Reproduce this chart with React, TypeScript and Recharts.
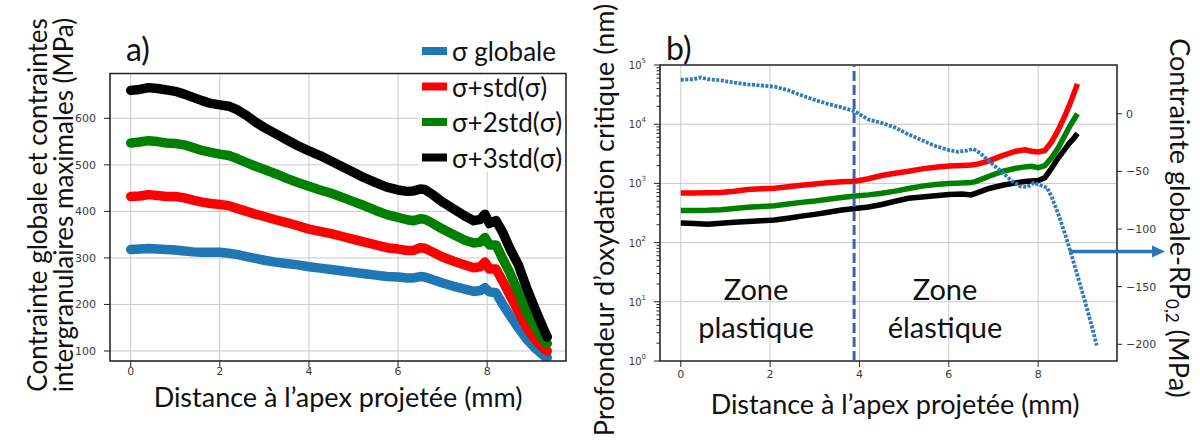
import React from "react";
import {
  CartesianGrid,
  Line,
  LineChart,
  ReferenceArea,
  ReferenceLine,
  XAxis,
  YAxis,
} from "recharts";

// ---- panel a) : contraintes vs distance ----
const distA = [
  0, 0.2, 0.4, 0.6, 0.8, 1.0, 1.2, 1.4, 1.6, 1.8, 2.0, 2.2, 2.4, 2.6, 2.8, 3.0,
  3.25, 3.5, 3.75, 4.0, 4.25, 4.5, 4.75, 5.0, 5.25, 5.5, 5.75, 6.0, 6.2, 6.35,
  6.5, 6.6, 6.75, 7.0, 7.25, 7.5, 7.7, 7.85, 7.95, 8.05, 8.2, 8.35, 8.5, 8.7,
  8.9, 9.1, 9.3, 9.35,
];
const sigmaGlobale = [
  318, 319, 320, 319, 318, 317, 315, 313, 312, 312, 312, 310, 307, 303, 299,
  295, 291, 288, 285, 281, 278, 275, 272, 269, 266, 263, 260, 259, 257, 257,
  260, 259, 254, 246, 239, 233, 228, 230, 236, 227, 225, 200, 178, 150, 124,
  104, 88, 86,
];
const sigmaStd1 = [
  432, 433, 436, 434, 432, 432, 429, 424, 420, 417, 415, 412, 406, 400, 394,
  389, 382, 376, 369, 362, 357, 352, 346, 340, 334, 328, 322, 319, 316, 316,
  322, 321, 314, 302, 293, 285, 279, 281, 291, 276, 276, 250, 222, 185, 148,
  122, 103, 100,
];
const sigmaStd2 = [
  547, 549, 552, 550, 547, 546, 543, 537, 531, 527, 523, 520, 513, 505, 497,
  490, 481, 471, 462, 454, 446, 439, 430, 421, 412, 402, 393, 387, 382, 380,
  384, 383, 376, 362, 350, 338, 332, 334, 344, 328, 328, 298, 270, 226, 182,
  148, 120, 116,
];
const sigmaStd3 = [
  660, 662, 666, 664, 661, 658, 652, 645, 638, 632, 629, 626, 618, 606, 592,
  580, 567, 554, 541, 530, 520, 508, 496, 484, 472, 462, 452, 446, 443, 444,
  448, 447, 438, 420, 405, 390, 380, 383, 394, 374, 380, 355, 322, 285, 232,
  185, 140, 130,
];
const ticksA = [0, 2, 4, 6, 8];
const stressTicks = [100, 200, 300, 400, 500, 600];

// ---- panel b) : profondeur critique (log) + contrainte - Rp0,2 ----
const distB = [
  0, 0.3, 0.6, 0.9, 1.2, 1.5, 1.8, 2.1, 2.4, 2.7, 3.0, 3.3, 3.6, 3.9, 4.2, 4.5,
  4.8, 5.1, 5.4, 5.7, 6.0, 6.3, 6.5, 6.6, 6.9, 7.2, 7.5, 7.7, 7.85, 8.0, 8.15,
  8.3, 8.45, 8.6, 8.7, 8.8, 8.88,
];
const depthStd1 = [
  690, 690, 695, 705, 740, 790, 810, 830, 880, 930, 975, 1030, 1070, 1090, 1200,
  1360, 1480, 1600, 1760, 1880, 1960, 2000, 2040, 2080, 2400, 2950, 3500, 3700,
  3500, 3400, 3600, 5000, 8000, 14000, 21000, 33000, 48000,
];
const depthStd2 = [
  350, 350, 352, 360, 378, 395, 408, 420, 450, 478, 505, 540, 580, 615, 640,
  680, 740, 820, 900, 960, 1000, 1020, 1040, 1070, 1320, 1600, 1800, 1900, 1950,
  1850, 2000, 2700, 4000, 6500, 9000, 12000, 15000,
];
const depthStd3 = [
  215, 210, 205, 212, 220, 228, 234, 240, 258, 280, 300, 325, 355, 378, 400,
  440, 500, 560, 590, 620, 650, 660, 640, 680, 820, 930, 1020, 1080, 1100,
  1120, 1250, 1800, 2700, 3800, 4800, 5800, 7000,
];
const distBlue = [
  0, 0.3, 0.45, 0.6, 0.9, 1.2, 1.5, 1.8, 2.1, 2.4, 2.7, 3.0, 3.3, 3.6, 3.9, 4.2,
  4.5, 4.8, 5.1, 5.4, 5.7, 6.0, 6.2, 6.4, 6.55, 6.7, 6.9, 7.2, 7.4, 7.6, 7.75,
  7.9, 8.05, 8.2, 8.3, 8.45, 8.6, 8.75, 8.9, 9.05, 9.2, 9.31,
];
const stressMinusRp = [
  29.5, 30, 31.5, 30, 29, 27, 25.5, 24.5, 23.5, 20.5, 16, 12, 8.5, 5.5, 2, -5,
  -8, -12, -18, -23, -28, -31.5, -33, -32, -30.5, -34, -41, -51, -58, -63,
  -63.5, -60, -62, -64, -72, -87, -104, -123, -143, -163, -184, -201,
];
const ticksB = [0, 2, 4, 6, 8];
const depthMajor = [1, 10, 100, 1000, 10000, 100000];
const depthTicks = depthMajor.flatMap((d, i) =>
  i < depthMajor.length - 1 ? [d, 2 * d, 3 * d, 4 * d, 5 * d, 6 * d, 7 * d, 8 * d, 9 * d] : [d],
);
const rpTicks = [0, -50, -100, -150, -200];
const zoneLimit = 3.88;
const arrowY = -119.5;
const arrowFrom = 8.7;
const arrowTo = 10.84;

const legendA = [
  { label: "σ globale", color: "#1f77b4" },
  { label: "σ+std(σ)", color: "#ff0000" },
  { label: "σ+2std(σ)", color: "#008000" },
  { label: "σ+3std(σ)", color: "#000000" },
];

const tableA = distA.map((x, i) => ({
  x,
  s0: sigmaGlobale[i],
  s1: sigmaStd1[i],
  s2: sigmaStd2[i],
  s3: sigmaStd3[i],
}));
const red = distB.map((x, i) => ({ x, v: depthStd1[i] }));
const green = distB.map((x, i) => ({ x, v: depthStd2[i] }));
const black = distB.map((x, i) => ({ x, v: depthStd3[i] }));
const blue = distBlue.map((x, i) => ({ x, v: stressMinusRp[i] }));

const xDomA: [number, number] = [-0.465, 9.77];
const yDomA: [number, number] = [78.5, 696.3];
const xDomB: [number, number] = [-0.465, 9.765];
const yDomLog: [number, number] = [1, 100000];
const yDomRp: [number, number] = [-214.5, 42.3];

// plot box of panel a (chart is 600 x 443)
const boxA = { left: 110, top: 73.5, right: 566, bottom: 361 };
const X_AXIS_H = 30;

const tickFont = { fontSize: 11, fill: "#3a3a3a", fontFamily: "DejaVu Sans" };
const gridColor = "#c9c9c9";
const frameColor = "#222";
const LOG_TICK = 6;
const LOG_MARGIN = 8;

function LogTick(props: any) {
  const { x, y, payload } = props;
  const v = payload.value as number;
  const e = Math.log10(v);
  const major = Math.abs(e - Math.round(e)) < 1e-9;
  const edge = x + LOG_MARGIN + LOG_TICK;
  const len = major ? LOG_TICK : 3.5;
  return (
    <g>
      <line x1={edge - len} x2={edge} y1={y} y2={y} stroke={frameColor} strokeWidth={1} />
      {major && (
        <text x={x} y={y + 4} textAnchor="end" {...tickFont} fontSize={10}>
          10
          <tspan dy={-6} fontSize={7}>
            {Math.round(e)}
          </tspan>
        </text>
      )}
    </g>
  );
}

function ArrowShape(props: any) {
  const { x1, y1, x2 } = props;
  return (
    <g>
      <line x1={x1} y1={y1} x2={x2 - 10} y2={y1} stroke="#2e75b6" strokeWidth={3.5} />
      <polygon points={`${x2 - 13},${y1 - 6} ${x2},${y1} ${x2 - 13},${y1 + 6}`} fill="#2e75b6" />
    </g>
  );
}

const minus = (v: number) => (v < 0 ? `\u2212${Math.abs(v)}` : `${v}`);

export default function App() {
  const title = { fontFamily: "Lato, 'Open Sans', sans-serif", fill: "#111" };
  return (
    <div style={{ position: "relative", width: 1200, height: 443, background: "#fff" }}>
      <style>{`body{margin:0}`}</style>

      <div style={{ position: "absolute", left: 0, top: 0 }}>
        <LineChart
          width={600}
          height={443}
          data={tableA}
          margin={{
            top: boxA.top,
            right: 600 - boxA.right,
            bottom: 443 - boxA.bottom - X_AXIS_H,
            left: 0,
          }}
        >
          <CartesianGrid stroke={gridColor} strokeWidth={1} />
          <XAxis
            dataKey="x"
            type="number"
            domain={xDomA}
            ticks={ticksA}
            allowDataOverflow
            axisLine={false}
            tickLine={{ stroke: frameColor }}
            tickSize={6}
            tickMargin={0}
            tick={tickFont}
            height={X_AXIS_H}
          />
          <YAxis
            type="number"
            domain={yDomA}
            ticks={stressTicks}
            allowDataOverflow
            axisLine={false}
            tickLine={{ stroke: frameColor }}
            tickSize={6}
            tickMargin={8}
            tick={tickFont}
            width={boxA.left}
          />
          {(["s0", "s1", "s2", "s3"] as const).map((k, i) => (
            <Line
              key={k}
              dataKey={k}
              type="linear"
              stroke={legendA[i].color}
              strokeWidth={9.5}
              strokeLinejoin="round"
              strokeLinecap="round"
              dot={false}
              activeDot={false}
              isAnimationActive={false}
            />
          ))}
        </LineChart>
      </div>

      <div style={{ position: "absolute", left: 600, top: 0 }}>
        <LineChart width={600} height={443} margin={{ top: 65, right: 23, bottom: 52, left: 0 }}>
          <CartesianGrid
            stroke={gridColor}
            strokeWidth={1}
            yAxisId="log"
            horizontalValues={[10, 100, 1000, 10000]}
          />
          <XAxis
            dataKey="x"
            type="number"
            domain={xDomB}
            ticks={ticksB}
            allowDataOverflow
            axisLine={false}
            tickLine={{ stroke: frameColor }}
            tickSize={6}
            tickMargin={3}
            tick={tickFont}
            height={30}
          />
          <YAxis
            yAxisId="log"
            type="number"
            scale="log"
            domain={yDomLog}
            ticks={depthTicks}
            interval={0}
            allowDataOverflow
            axisLine={false}
            tickLine={false}
            tickSize={LOG_TICK}
            tickMargin={LOG_MARGIN}
            tick={<LogTick />}
            width={60}
          />
          <YAxis
            yAxisId="right"
            orientation="right"
            type="number"
            domain={yDomRp}
            ticks={rpTicks}
            allowDataOverflow
            axisLine={false}
            tickLine={{ stroke: frameColor }}
            tickSize={5}
            tickMargin={4}
            tick={tickFont}
            tickFormatter={minus}
            width={60}
          />
          <ReferenceArea
            yAxisId="log"
            x1={xDomB[0]}
            x2={xDomB[1]}
            y1={yDomLog[0]}
            y2={yDomLog[1]}
            fill="none"
            fillOpacity={0}
            stroke={frameColor}
            strokeWidth={1.5}
            ifOverflow="visible"
          />
          <Line data={red} dataKey="v" yAxisId="log" stroke="#ff0000" strokeWidth={5.5} dot={false} activeDot={false} isAnimationActive={false} />
          <Line data={green} dataKey="v" yAxisId="log" stroke="#008000" strokeWidth={5.5} dot={false} activeDot={false} isAnimationActive={false} />
          <Line data={black} dataKey="v" yAxisId="log" stroke="#000000" strokeWidth={5.5} dot={false} activeDot={false} isAnimationActive={false} />
          <ReferenceLine
            yAxisId="log"
            x={zoneLimit}
            stroke="#3b62ad"
            strokeWidth={3}
            strokeDasharray="10 4"
          />
          <Line
            data={blue}
            dataKey="v"
            yAxisId="right"
            stroke="#2e7bbd"
            strokeWidth={3.8}
            strokeDasharray="3 1.5"
            dot={false}
            activeDot={false}
            isAnimationActive={false}
          />
          <ReferenceLine
            yAxisId="right"
            segment={[
              { x: arrowFrom, y: arrowY },
              { x: arrowTo, y: arrowY },
            ]}
            ifOverflow="visible"
            shape={ArrowShape}
          />
        </LineChart>
      </div>

      <svg
        width={1200}
        height={443}
        style={{ position: "absolute", left: 0, top: 0, pointerEvents: "none" }}
      >
        {/* panel a */}
        <rect x={418} y={32} width={146} height={140} fill="#fff" fillOpacity={0.8} />
        <path
          d={`M${boxA.left},${boxA.top} H${boxA.right} V${boxA.bottom} H${boxA.left} Z`}
          fill="none"
          stroke={frameColor}
          strokeWidth={1.5}
        />
        <text x={126} y={61} fontSize={32} {...title}>a)</text>
        {legendA.map((l, i) => (
          <g key={l.label}>
            <rect x={422} y={51 + i * 35.5 - 4} width={25} height={8} fill={l.color} />
            <text x={452} y={51 + i * 35.5} fontSize={26} dominantBaseline="central" {...title}>
              {l.label}
            </text>
          </g>
        ))}
        <text x={338} y={407} fontSize={27} textAnchor="middle" {...title}>
          Distance à l’apex projetée (mm)
        </text>
        <text
          x={37}
          y={205}
          fontSize={26}
          textAnchor="middle"
          dominantBaseline="central"
          transform="rotate(-90 37 205)"
          {...title}
        >
          Contrainte globale et contraintes
        </text>
        <text
          x={63}
          y={205}
          fontSize={26}
          textAnchor="middle"
          dominantBaseline="central"
          transform="rotate(-90 63 205)"
          {...title}
        >
          intergranulaires maximales (MPa)
        </text>

        {/* panel b */}
        <text x={666} y={60} fontSize={32} {...title}>b)</text>
        <text x={756} y={300} fontSize={29} textAnchor="middle" {...title}>Zone</text>
        <text x={756} y={338} fontSize={29} textAnchor="middle" {...title}>plastique</text>
        <text x={945} y={300} fontSize={29} textAnchor="middle" {...title}>Zone</text>
        <text x={945} y={338} fontSize={29} textAnchor="middle" {...title}>élastique</text>
        <text x={895} y={414} fontSize={27} textAnchor="middle" {...title}>
          Distance à l’apex projetée (mm)
        </text>
        <text
          x={603}
          y={220}
          fontSize={27}
          textAnchor="middle"
          dominantBaseline="central"
          transform="rotate(-90 603 220)"
          {...title}
        >
          Profondeur d’oxydation critique (nm)
        </text>
        <text
          x={1180}
          y={218}
          fontSize={27}
          textAnchor="middle"
          dominantBaseline="central"
          transform="rotate(90 1180 218)"
          {...title}
        >
          Contrainte globale-RP
          <tspan fontSize={17} dy={7}>0,2</tspan>
          <tspan dy={-7}> (MPa)</tspan>
        </text>
      </svg>
    </div>
  );
}
